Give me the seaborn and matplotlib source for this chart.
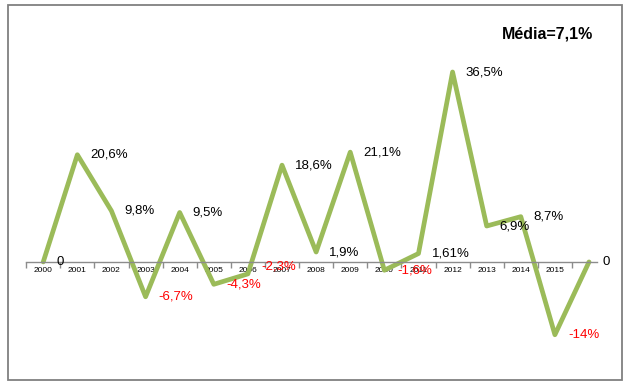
import matplotlib
matplotlib.use("Agg")
import matplotlib.pyplot as plt
import matplotlib.patches as mpatches
import numpy as np
import pandas as pd
import seaborn as sns

years = ["2000", "2001", "2002", "2003", "2004", "2005", "2006", "2007",
         "2008", "2009", "2010", "2011", "2012", "2013", "2014", "2015", ""]
values = [0, 20.6, 9.8, -6.7, 9.5, -4.3, -2.3, 18.6, 1.9, 21.1, -1.6, 1.61,
          36.5, 6.9, 8.7, -14, 0]
labels = ["0", "20,6%", "9,8%", "-6,7%", "9,5%", "-4,3%", "-2,3%", "18,6%",
          "1,9%", "21,1%", "-1,6%", "1,61%", "36,5%", "6,9%", "8,7%", "-14%", "0"]
media_text = "Média=7,1%"

df = pd.DataFrame({"pos": np.arange(len(values)), "val": values})

sns.set_theme(style="white")
plt.rcParams["font.family"] = ["Liberation Sans", "DejaVu Sans"]
plt.rcParams["text.color"] = "black"
plt.rcParams["xtick.color"] = "black"

fig = plt.figure(figsize=(6.31, 3.87), dpi=100)
ax = fig.add_axes([0.0415, 0.0543, 0.919, 0.8336])

sns.lineplot(data=df, x="pos", y="val", color="#9bbb59", linewidth=3.4,
             ax=ax, errorbar=None)

# data labels to the right of each point
for i, (v, t) in enumerate(zip(values, labels)):
    dy = 7 if t == "-2,3%" else 0
    ax.annotate(t, (i, v), xytext=(13, dy), textcoords="offset pixels",
                ha="left", va="center", fontsize=9.5,
                color="red" if v < 0 else "black")

ax.set_xlim(-0.5, 16.5)
ax.set_ylim(-20, 42)
ax.set_xlabel("")
ax.set_ylabel("")
ax.set_yticks([])

for s in ["top", "right", "left"]:
    ax.spines[s].set_visible(False)
ax.spines["bottom"].set_position(("data", 0))
ax.spines["bottom"].set_bounds(-0.5, 16.24)
ax.spines["bottom"].set_color("#8c8c8c")
ax.spines["bottom"].set_linewidth(1.0)

ax.set_xticks(range(len(years)))
ax.set_xticklabels(years, fontsize=6, color="black")
ax.set_xticks(np.arange(-0.5, 16, 1), minor=True)
ax.tick_params(axis="x", which="major", length=0, pad=4)
ax.tick_params(axis="x", which="minor", length=4, color="#8c8c8c",
               direction="out", width=1.0, bottom=True)

fig.text(502 / 631, 1 - 34 / 387, media_text, fontsize=11.5,
         fontweight="bold", ha="left", va="center", color="black")

fig.patches.append(mpatches.Rectangle((8 / 631, 7 / 387), 614 / 631,
                                      375 / 387, transform=fig.transFigure,
                                      fill=False, edgecolor="#808080",
                                      linewidth=1.3))

fig.savefig("out.png", dpi=100)
